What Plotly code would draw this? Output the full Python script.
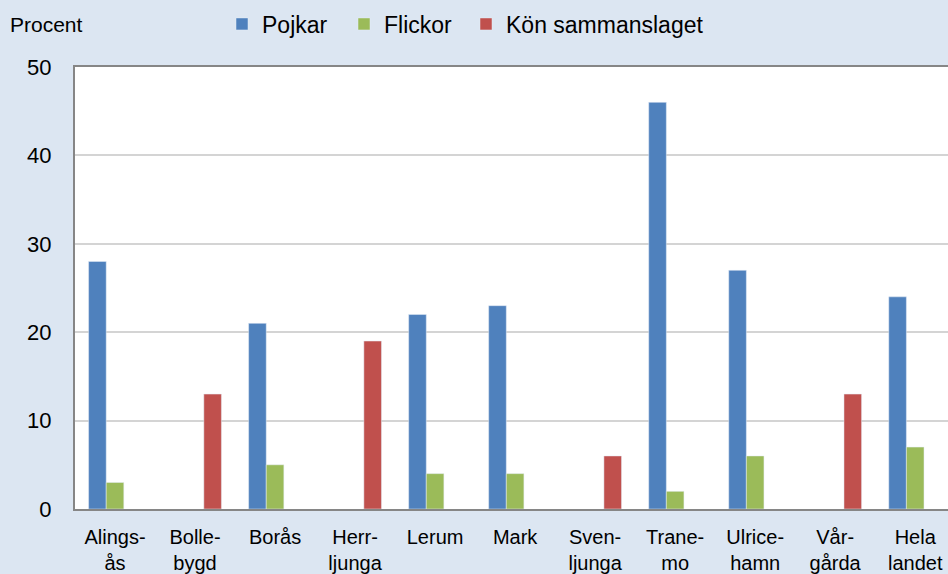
import plotly.graph_objects as go

categories = ["Alings-<br>ås", "Bolle-<br>bygd", "Borås", "Herr-<br>ljunga", "Lerum", "Mark",
              "Sven-<br>ljunga", "Trane-<br>mo", "Ulrice-<br>hamn", "Vår-<br>gårda", "Hela<br>landet"]
pojkar = [28, None, 21, None, 22, 23, None, 46, 27, None, 24]
flickor = [3, None, 5, None, 4, 4, None, 2, 6, None, 7]
kon_sammanslaget = [None, 13, None, 19, None, None, 6, None, None, 13, None]
y_ticks = [0, 10, 20, 30, 40, 50]

font = "Liberation Sans, Arial, sans-serif"
fig = go.Figure()
fig.add_bar(name="Pojkar", x=categories, y=pojkar, marker_color="#4f81bd", legendwidth=77)
fig.add_bar(name="Flickor", x=categories, y=flickor, marker_color="#9bbb59", legendwidth=77)
fig.add_bar(name="Kön sammanslaget", x=categories, y=kon_sammanslaget, marker_color="#c0504d")

fig.update_layout(
    width=948, height=574,
    margin=dict(l=75, r=0, t=67, b=62),
    paper_bgcolor="#dce6f2", plot_bgcolor="white",
    barmode="group", bargap=0.34, bargroupgap=0,
    font=dict(family=font, size=19, color="black"),
    showlegend=True,
    legend=dict(orientation="h", xref="container", yref="container", x=222/948, y=1-24/574,
                xanchor="left", yanchor="middle", font=dict(size=23), itemwidth=30,
                bgcolor="rgba(0,0,0,0)", traceorder="normal"),
    annotations=[dict(text="Procent", xref="paper", yref="paper", x=(8-75)/873, y=(512-24)/445,
                      xanchor="left", yanchor="middle", showarrow=False, font=dict(size=21))],
)
fig.update_xaxes(range=[-0.5, 10.41], showline=True, mirror=True, linecolor="#868686", linewidth=2,
                 ticks="", ticklabelstandoff=9, tickfont=dict(size=20))
fig.update_yaxes(range=[0, 50], tickvals=y_ticks, showgrid=True, gridcolor="#d4d4d4", gridwidth=2,
                 showline=True, linecolor="#868686", linewidth=2, ticks="", ticklabelstandoff=17,
                 tickfont=dict(size=22), zeroline=False)
fig.write_html("out.html", config={"displayModeBar": False},
               post_script="document.body.style.margin='0';document.body.style.overflow='hidden';")
